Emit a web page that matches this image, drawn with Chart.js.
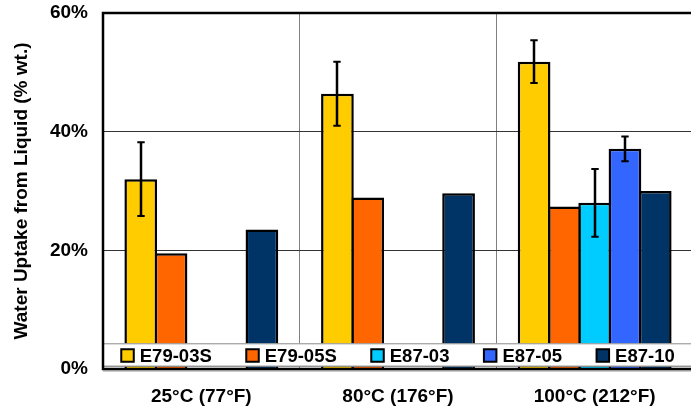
<!DOCTYPE html>
<html>
<head>
<meta charset="utf-8">
<script src="https://cdn.jsdelivr.net/npm/chart.js@4.4.0/dist/chart.umd.min.js"></script>
<style>
  html, body { margin: 0; padding: 0; background: #fff; overflow: hidden; }
  #clip { width: 691px; height: 411px; overflow: hidden; position: relative; }
  #wrap { width: 700px; height: 411px; position: absolute; left: 0; top: 0; }
</style>
</head>
<body>
<div id="clip"><div id="wrap"><canvas id="chart" width="700" height="411"></canvas></div></div>
<script>
// categories and series (values in % wt.)
const categories = ['25°C (77°F)', '80°C (176°F)', '100°C (212°F)'];
const seriesNames = ['E79-03S', 'E79-05S', 'E87-03', 'E87-05', 'E87-10'];
const e7903s = [32.0, 46.4, 51.8];
const e7905s = [19.5, 28.9, 27.4];
const e8703 = [null, null, 28.0];
const e8705 = [null, null, 37.1];
const e8710 = [23.5, 29.6, 30.0];
// +/- error bar half heights
const err7903s = [6.2, 5.4, 3.6];
const err8703 = [null, null, 5.7];
const err8705 = [null, null, 2.1];
const yTicks = [0, 20, 40, 60];

const colors = ['#FFCC00', '#FF6600', '#00CCFF', '#3366FF', '#003366'];
const FONT = "'Liberation Sans', Arial, sans-serif";

const values = [e7903s, e7905s, e8703, e8705, e8710];
const errors = [err7903s, null, err8703, err8705, null];

const datasets = values.map((v, i) => ({
    label: seriesNames[i],
    data: v,
    backgroundColor: colors[i],
    borderColor: '#000',
    borderWidth: 2.5,
    errors: errors[i],
    categoryPercentage: 0.77,
    barPercentage: 1.08
}));

// error bars
const errorBars = {
    id: 'errorBars',
    afterDatasetsDraw(chart) {
        const ctx = chart.ctx;
        const y = chart.scales.y;
        ctx.save();
        ctx.strokeStyle = '#000';
        chart.data.datasets.forEach((ds, i) => {
            if (!ds.errors) return;
            const meta = chart.getDatasetMeta(i);
            meta.data.forEach((bar, j) => {
                const v = ds.data[j], e = ds.errors[j];
                if (v == null || e == null) return;
                const x = Math.round(bar.x);
                const yHi = y.getPixelForValue(v + e);
                const yLo = y.getPixelForValue(v - e);
                ctx.lineWidth = 2.5;
                ctx.beginPath();
                ctx.moveTo(x, yHi); ctx.lineTo(x, yLo);
                ctx.stroke();
                ctx.lineWidth = 2;
                ctx.beginPath();
                ctx.moveTo(x - 3.7, yHi); ctx.lineTo(x + 3.7, yHi);
                ctx.moveTo(x - 3.7, yLo); ctx.lineTo(x + 3.7, yLo);
                ctx.stroke();
            });
        });
        ctx.restore();
    }
};

// legend box inside the plot bottom, then the plot frame
const legendBox = {
    id: 'legendBox',
    afterDatasetsDraw(chart) {
        const ctx = chart.ctx;
        const a = chart.chartArea;
        const top = a.bottom - 25.7, bot = a.bottom - 2.3;
        ctx.save();
        ctx.fillStyle = '#fff';
        ctx.fillRect(a.left, top, a.right - a.left, bot - top);
        ctx.strokeStyle = '#8a8a8a';
        ctx.lineWidth = 1;
        ctx.beginPath();
        ctx.moveTo(a.left, top + 0.5); ctx.lineTo(a.right, top + 0.5);
        ctx.stroke();
        ctx.strokeStyle = '#666';
        ctx.beginPath();
        ctx.moveTo(a.left, bot - 0.5); ctx.lineTo(a.right, bot - 0.5);
        ctx.stroke();

        ctx.font = 'bold 18.5px ' + FONT;
        ctx.textBaseline = 'middle';
        const box = 12.5, gapIn = 6, gapOut = 34.5;
        const items = chart.data.datasets.map(ds => ({
            label: ds.label, color: ds.backgroundColor,
            w: box + gapIn + ctx.measureText(ds.label).width
        }));
        const total = items.reduce((s, it) => s + it.w, 0) + gapOut * (items.length - 1);
        let x = (a.left + a.right) / 2 - total / 2;
        const cy = (top + bot) / 2 + 0.5;
        items.forEach(it => {
            ctx.fillStyle = it.color;
            ctx.fillRect(x, cy - box / 2, box, box);
            ctx.strokeStyle = '#000';
            ctx.lineWidth = 2;
            ctx.strokeRect(x, cy - box / 2, box, box);
            ctx.fillStyle = '#000';
            ctx.fillText(it.label, x + box + gapIn, cy + 1);
            x += it.w + gapOut;
        });

        // frame
        ctx.strokeStyle = '#999';
        ctx.lineWidth = 1;
        ctx.beginPath();
        ctx.moveTo(a.left, a.bottom + 2); ctx.lineTo(a.right, a.bottom + 2);
        ctx.stroke();
        ctx.strokeStyle = '#000';
        ctx.lineWidth = 2.5;
        ctx.strokeRect(a.left, a.top, a.right - a.left, a.bottom - a.top);
        ctx.restore();
    }
};

new Chart(document.getElementById('chart'), {
    type: 'bar',
    data: { labels: categories, datasets: datasets },
    plugins: [errorBars, legendBox],
    options: {
        responsive: false,
        animation: false,
        layout: { padding: { top: 13, right: 7, left: 0, bottom: 0 } },
        plugins: { legend: { display: false }, tooltip: { enabled: false } },
        scales: {
            x: {
                grid: { color: '#808080', lineWidth: 1, drawTicks: false },
                border: { display: false },
                ticks: {
                    color: '#000', padding: 16,
                    font: { family: FONT, size: 19, weight: 'bold' }
                },
                afterFit(scale) {
                    scale.height = 42;
                    scale.paddingLeft = 0; scale.paddingRight = 0;
                }
            },
            y: {
                min: 0, max: 60,
                afterBuildTicks(scale) { scale.ticks = yTicks.map(v => ({ value: v })); },
                grid: { color: '#333', lineWidth: 1, drawTicks: false },
                border: { display: false },
                ticks: {
                    color: '#000', padding: 15,
                    font: { family: FONT, size: 19, weight: 'bold' },
                    callback: v => v + '%'
                },
                title: {
                    display: true,
                    text: 'Water Uptake from Liquid (% wt.)',
                    color: '#000',
                    font: { family: FONT, size: 19, weight: 'bold' },
                    padding: { top: 10, bottom: 0 }
                },
                afterFit(scale) {
                    scale.width = 103;
                    scale.paddingTop = 0; scale.paddingBottom = 0;
                }
            }
        }
    }
});
</script>
</body>
</html>
